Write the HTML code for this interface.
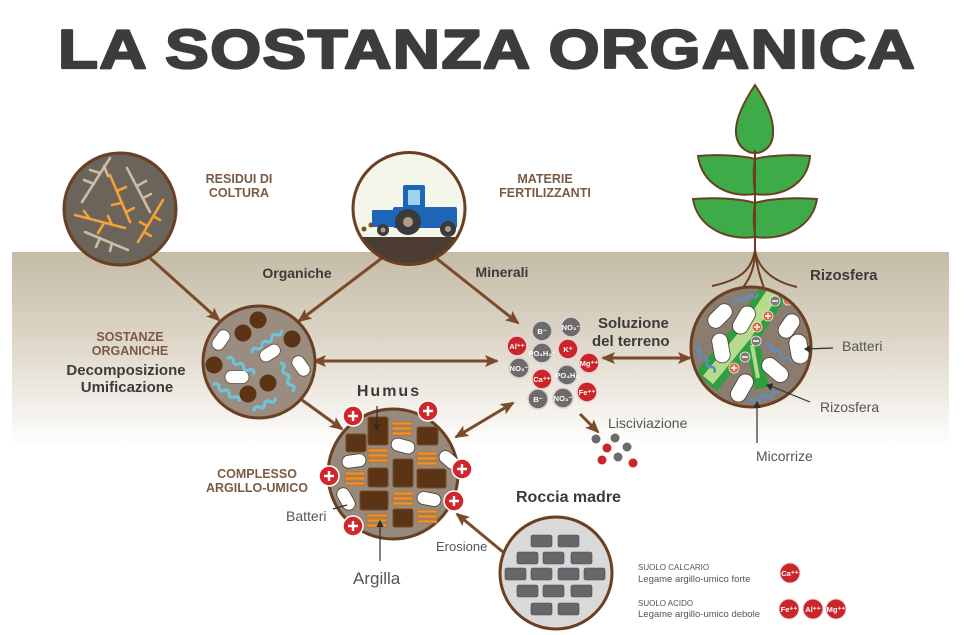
<!DOCTYPE html>
<html><head><meta charset="utf-8"><style>
html,body{margin:0;padding:0;background:#fff}
svg{display:block}
text{font-family:"Liberation Sans",Arial,sans-serif}
.cap{fill:#7b5a45;font-weight:bold;font-size:12.5px}
.dk{fill:#3b3b3b;font-weight:bold}
.lt{fill:#555;font-weight:normal}
.ion{fill:#fff;font-weight:bold;font-size:7.5px;text-anchor:middle}
</style></head><body>
<svg width="971" height="635" viewBox="0 0 971 635" xmlns="http://www.w3.org/2000/svg">
<defs>
<linearGradient id="gb" x1="0" y1="0" x2="0" y2="1">
<stop offset="0" stop-color="#c5bca6"/>
<stop offset="0.45" stop-color="#ddd6c8"/>
<stop offset="0.8" stop-color="#f3f0ea"/>
<stop offset="1" stop-color="#ffffff"/>
</linearGradient>
<marker id="ah" markerUnits="userSpaceOnUse" markerWidth="14" markerHeight="12" refX="12" refY="6" orient="auto-start-reverse">
<path d="M0,0 L14,6 L0,12 L3,6 z" fill="#7b4a28"/>
</marker>
<clipPath id="ct"><circle cx="409" cy="208.5" r="56"/></clipPath>
<clipPath id="cr"><circle cx="751" cy="347" r="58"/></clipPath>
</defs>

<!-- ground band -->
<rect x="12" y="252" width="937" height="195" fill="url(#gb)"/>

<!-- title -->
<g transform="translate(58,68) scale(1.19,1)">
<text x="0" y="0" textLength="720" lengthAdjust="spacing" font-size="55" font-weight="bold" fill="#3c3c3c" stroke="#3c3c3c" stroke-width="2.2" stroke-linejoin="round">LA SOSTANZA ORGANICA</text>
</g>

<!-- arrows -->
<g stroke="#7b4a28" stroke-width="3" fill="none">
<line x1="150" y1="258" x2="219" y2="320" marker-end="url(#ah)"/>
<line x1="382" y1="258" x2="299" y2="321" marker-end="url(#ah)"/>
<line x1="436" y1="258" x2="518" y2="323" marker-end="url(#ah)"/>
<line x1="314" y1="361" x2="497" y2="361" marker-start="url(#ah)" marker-end="url(#ah)"/>
<line x1="302" y1="400" x2="342" y2="429" marker-end="url(#ah)"/>
<line x1="456" y1="437" x2="513" y2="403" marker-start="url(#ah)" marker-end="url(#ah)"/>
<line x1="603" y1="358" x2="690" y2="358" marker-start="url(#ah)" marker-end="url(#ah)"/>
<line x1="580" y1="414" x2="598" y2="432" marker-end="url(#ah)"/>
<line x1="503" y1="552" x2="457" y2="514" marker-end="url(#ah)"/>
</g>

<!-- residui circle -->
<circle cx="120" cy="209" r="56" fill="#6b645a" stroke="#6b3f22" stroke-width="3"/>
<g fill="none" stroke-linecap="round" stroke-width="2.6">
<g stroke="#cbbda5">
<path d="M110,158 L82,202 M100,173 L90,170 M94,184 L84,180 M104,166 L108,176"/>
<path d="M127,168 L150,212 M137,186 L146,181 M143,198 L151,194"/>
<path d="M85,232 L128,250 M100,238 L96,247 M112,243 L110,251"/>
</g>
<g stroke="#f5a03a">
<path d="M110,175 L130,222 M117,191 L126,187 M121,203 L112,205 M126,212 L134,208"/>
<path d="M75,215 L125,228 M90,219 L84,211 M104,223 L98,233 M112,225 L108,216"/>
<path d="M163,200 L138,242 M153,216 L160,220 M147,226 L140,222 M144,232 L151,236"/>
</g>
</g>
<text class="cap" x="239" y="183" text-anchor="middle">RESIDUI DI</text>
<text class="cap" x="239" y="197" text-anchor="middle">COLTURA</text>

<!-- tractor circle -->
<circle cx="409" cy="208.5" r="56" fill="#f4f6ea"/>
<g clip-path="url(#ct)">
<rect x="350" y="237" width="120" height="40" fill="#4d3c31"/>
<rect x="372" y="210" width="22" height="17" rx="1" fill="#1f66b8"/>
<rect x="403" y="185" width="22" height="23" rx="2" fill="#1f66b8"/>
<rect x="408" y="190" width="12" height="15" fill="#9ed3f0"/>
<rect x="393" y="207" width="64" height="21" rx="2" fill="#1f66b8"/>
<circle cx="408" cy="222" r="13" fill="#3a3a3a"/>
<circle cx="408" cy="222" r="5" fill="#b49a86"/>
<circle cx="448" cy="229" r="8" fill="#3a3a3a"/>
<circle cx="448" cy="229" r="3" fill="#b49a86"/>
<circle cx="383" cy="230" r="6" fill="#3a3a3a"/>
<circle cx="383" cy="230" r="2.5" fill="#b49a86"/>
<circle cx="364" cy="229" r="2.5" fill="#7b4a28"/>
<circle cx="371" cy="225" r="2.5" fill="#7b4a28"/>
</g>
<circle cx="409" cy="208.5" r="56" fill="none" stroke="#6b3f22" stroke-width="3"/>
<text class="cap" x="545" y="183" text-anchor="middle">MATERIE</text>
<text class="cap" x="545" y="197" text-anchor="middle">FERTILIZZANTI</text>

<text class="dk" x="297" y="278" font-size="14" text-anchor="middle">Organiche</text>
<text class="dk" x="502" y="277" font-size="14" text-anchor="middle">Minerali</text>

<!-- plant -->
<g stroke="#6b3f22" stroke-width="2" fill="#3dab47">
<path d="M755,85 C745,100 735,118 736,133 C737,147 747,153 755,153 C763,153 773,147 773,133 C774,118 765,100 755,85 Z"/>
<path d="M698,156 C720,154 745,156 755,159 C758,175 755,190 755,194 C728,198 702,184 698,156 Z"/>
<path d="M810,156 C790,154 765,156 755,159 C752,175 755,190 755,194 C782,198 808,184 810,156 Z"/>
<path d="M693,199 C717,197 742,199 755,203 C758,220 755,233 755,237 C725,241 697,226 693,199 Z"/>
<path d="M817,199 C793,197 768,199 755,203 C752,220 755,233 755,237 C785,241 813,226 817,199 Z"/>
</g>
<g stroke="#6b3f22" stroke-width="2" fill="none">
<line x1="755" y1="150" x2="755" y2="255"/>
<path d="M755,250 C752,270 740,280 712,286"/>
<path d="M755,250 C755,270 748,282 740,291"/>
<path d="M755,250 C757,270 762,282 765,291"/>
<path d="M755,250 C758,270 775,282 797,287"/>
</g>
<text class="dk" x="810" y="280" font-size="15">Rizosfera</text>

<!-- organic circle -->
<circle cx="259" cy="362" r="56" fill="#9a8d80" stroke="#6b3f22" stroke-width="3"/>
<g fill="#5b3415">
<circle cx="258" cy="320" r="8.5"/><circle cx="243" cy="333" r="8.5"/><circle cx="292" cy="339" r="8.5"/>
<circle cx="214" cy="365" r="8.5"/><circle cx="268" cy="383" r="8.5"/><circle cx="248" cy="394" r="8.5"/>
</g>
<g fill="#fff" stroke="#5b4a3a" stroke-width="0.8">
<rect x="-11" y="-6.5" width="22" height="13" rx="6.5" transform="translate(221,340) rotate(-55)"/>
<rect x="-11" y="-6.5" width="22" height="13" rx="6.5" transform="translate(270,353) rotate(-32)"/>
<rect x="-11" y="-6.5" width="22" height="13" rx="6.5" transform="translate(301,366) rotate(55)"/>
<rect x="-12" y="-6.5" width="24" height="13" rx="6.5" transform="translate(237,377)"/>
</g>
<g fill="none" stroke="#6ec3dc" stroke-width="3.2" stroke-linecap="round">
<path d="M0,0 q3,-4 6,0 t6,0 t6,0 t6,0 t6,0" transform="translate(228,358) rotate(30)"/>
<path d="M0,0 q3,-4 6,0 t6,0 t6,0 t6,0 t6,0 t6,0" transform="translate(252,352) rotate(-35)"/>
<path d="M0,0 q3,-4 6,0 t6,0 t6,0 t6,0 t6,0" transform="translate(281,363) rotate(66)"/>
<path d="M0,0 q3,-4 6,0 t6,0 t6,0 t6,0 t6,0" transform="translate(214,384) rotate(33)"/>
<path d="M0,0 q3,-4 6,0 t6,0 t6,0 t6,0" transform="translate(254,410) rotate(-28)"/>
</g>
<text class="cap" x="130" y="341" text-anchor="middle" font-size="11.5">SOSTANZE</text>
<text class="cap" x="130" y="355" text-anchor="middle" font-size="11.5">ORGANICHE</text>
<text class="dk" x="126" y="375" text-anchor="middle" font-size="15">Decomposizione</text>
<text class="dk" x="127" y="392" text-anchor="middle" font-size="15">Umificazione</text>

<!-- humus circle -->
<circle cx="393" cy="474" r="65" fill="#968a7c" stroke="#6b3f22" stroke-width="3"/>
<g fill="#5b3415" stroke="#7a4a25" stroke-width="1">
<rect x="368" y="417" width="20" height="28" rx="2"/>
<rect x="417" y="427" width="21" height="18" rx="2"/>
<rect x="346" y="434" width="20" height="18" rx="2"/>
<rect x="393" y="459" width="20" height="28" rx="2"/>
<rect x="368" y="468" width="20" height="19" rx="2"/>
<rect x="417" y="469" width="29" height="19" rx="2"/>
<rect x="360" y="491" width="28" height="19" rx="2"/>
<rect x="393" y="509" width="20" height="18" rx="2"/>
</g>
<g fill="#f0932b" stroke="#b8621a" stroke-width="0.6">
<g transform="translate(392,422)"><rect width="20" height="3"/><rect y="5" width="20" height="3"/><rect y="10" width="20" height="3"/></g>
<g transform="translate(368,449)"><rect width="20" height="3"/><rect y="5" width="20" height="3"/><rect y="10" width="20" height="3"/></g>
<g transform="translate(417,452)"><rect width="20" height="3"/><rect y="5" width="20" height="3"/><rect y="10" width="20" height="3"/></g>
<g transform="translate(345,472)"><rect width="20" height="3"/><rect y="5" width="20" height="3"/><rect y="10" width="20" height="3"/></g>
<g transform="translate(393,492)"><rect width="20" height="3"/><rect y="5" width="20" height="3"/><rect y="10" width="20" height="3"/></g>
<g transform="translate(367,514)"><rect width="20" height="3"/><rect y="5" width="20" height="3"/><rect y="10" width="20" height="3"/></g>
<g transform="translate(417,510)"><rect width="20" height="3"/><rect y="5" width="20" height="3"/><rect y="10" width="20" height="3"/></g>
</g>
<g fill="#fff" stroke="#4a3a2a" stroke-width="0.8">
<rect x="-12" y="-6.5" width="24" height="13" rx="6.5" transform="translate(403,446) rotate(15)"/>
<rect x="-12" y="-6.5" width="24" height="13" rx="6.5" transform="translate(354,461) rotate(-8)"/>
<rect x="-11" y="-6.5" width="22" height="13" rx="6.5" transform="translate(449,460) rotate(40)"/>
<rect x="-12" y="-6.5" width="24" height="13" rx="6.5" transform="translate(346,499) rotate(60)"/>
<rect x="-12" y="-6.5" width="24" height="13" rx="6.5" transform="translate(429,499) rotate(10)"/>
</g>
<g>
<g transform="translate(353,416)"><circle r="10" fill="#d0262c" stroke="#fff" stroke-width="1.5"/><path d="M-5,0 H5 M0,-5 V5" stroke="#fff" stroke-width="2.4"/></g>
<g transform="translate(428,411)"><circle r="10" fill="#d0262c" stroke="#fff" stroke-width="1.5"/><path d="M-5,0 H5 M0,-5 V5" stroke="#fff" stroke-width="2.4"/></g>
<g transform="translate(329,476)"><circle r="10" fill="#d0262c" stroke="#fff" stroke-width="1.5"/><path d="M-5,0 H5 M0,-5 V5" stroke="#fff" stroke-width="2.4"/></g>
<g transform="translate(462,469)"><circle r="10" fill="#d0262c" stroke="#fff" stroke-width="1.5"/><path d="M-5,0 H5 M0,-5 V5" stroke="#fff" stroke-width="2.4"/></g>
<g transform="translate(454,501)"><circle r="10" fill="#d0262c" stroke="#fff" stroke-width="1.5"/><path d="M-5,0 H5 M0,-5 V5" stroke="#fff" stroke-width="2.4"/></g>
<g transform="translate(353,526)"><circle r="10" fill="#d0262c" stroke="#fff" stroke-width="1.5"/><path d="M-5,0 H5 M0,-5 V5" stroke="#fff" stroke-width="2.4"/></g>
</g>
<g stroke="#2e2e2e" stroke-width="1.2" fill="none">
<line x1="377" y1="406" x2="377" y2="428"/>
<path d="M374,424 L377,430 L380,424" fill="#2e2e2e"/>
<line x1="380" y1="523" x2="380" y2="561"/>
<path d="M377,527 L380,521 L383,527" fill="#2e2e2e"/>
<line x1="333" y1="509" x2="347" y2="505"/>
</g>
<text class="dk" x="389" y="396" text-anchor="middle" font-size="16" letter-spacing="2">Humus</text>
<text class="cap" x="257" y="478" text-anchor="middle" font-size="11.5">COMPLESSO</text>
<text class="cap" x="257" y="492" text-anchor="middle" font-size="11.5">ARGILLO-UMICO</text>
<text class="lt" x="286" y="521" font-size="14">Batteri</text>
<text class="lt" x="353" y="584" font-size="17">Argilla</text>

<!-- solution ions -->
<g stroke-width="1.5">
<g stroke="#d9d4d4" fill="#6d6a6b">
<circle cx="542" cy="331" r="10"/><circle cx="571" cy="327" r="10"/><circle cx="542" cy="353" r="10"/>
<circle cx="519" cy="368" r="10"/><circle cx="567" cy="375" r="10"/><circle cx="538" cy="399" r="10"/><circle cx="563" cy="398" r="10"/>
</g>
<g stroke="#f2d4d4" fill="#c9252b">
<circle cx="517" cy="346" r="10"/><circle cx="568" cy="349" r="10"/><circle cx="589" cy="363" r="10"/>
<circle cx="542" cy="379" r="10"/><circle cx="587" cy="392" r="10"/>
</g>
</g>
<text class="ion" x="542" y="334">B⁻</text>
<text class="ion" x="571" y="330">NO₃⁻</text>
<text class="ion" x="542" y="356">PO₄H₂⁻</text>
<text class="ion" x="519" y="371">NO₃⁻</text>
<text class="ion" x="567" y="378">PO₄H₂</text>
<text class="ion" x="538" y="402">B⁻</text>
<text class="ion" x="563" y="401">NO₃⁻</text>
<text class="ion" x="517" y="349">Al⁺⁺</text>
<text class="ion" x="568" y="352">K⁺</text>
<text class="ion" x="589" y="366">Mg⁺⁺</text>
<text class="ion" x="542" y="382">Ca⁺⁺</text>
<text class="ion" x="587" y="395">Fe⁺⁺</text>
<text class="dk" x="598" y="328" font-size="15">Soluzione</text>
<text class="dk" x="592" y="346" font-size="15">del terreno</text>
<text class="lt" x="608" y="428" font-size="14">Lisciviazione</text>
<g>
<circle cx="596" cy="439" r="4.5" fill="#6d6a6b"/><circle cx="615" cy="438" r="4.5" fill="#6d6a6b"/>
<circle cx="607" cy="448" r="4.5" fill="#c9252b"/><circle cx="627" cy="447" r="4.5" fill="#6d6a6b"/>
<circle cx="602" cy="460" r="4.5" fill="#c9252b"/><circle cx="618" cy="457" r="4.5" fill="#6d6a6b"/>
<circle cx="633" cy="463" r="4.5" fill="#c9252b"/>
</g>

<!-- rizosfera circle -->
<circle cx="751" cy="347" r="60" fill="#8a7d70"/>
<g clip-path="url(#cr)">
<path d="M778,285 L745,335 L706,382" stroke="#2e9e3e" stroke-width="28" fill="none"/>
<path d="M752,340 L762,388" stroke="#2e9e3e" stroke-width="14" fill="none"/>
<path d="M778,285 L745,335 L708,380" stroke="#b7db8c" stroke-width="13" fill="none"/>
<path d="M752,345 L758,378" stroke="#b7db8c" stroke-width="4" fill="none"/>
<g fill="#fff" stroke="#4a3a2a" stroke-width="0.8">
<rect x="-14" y="-8" width="28" height="16" rx="8" transform="translate(720,316) rotate(-45)"/>
<rect x="-15" y="-8" width="30" height="16" rx="8" transform="translate(744,320) rotate(-60)"/>
<rect x="-15" y="-8" width="30" height="16" rx="8" transform="translate(721,348) rotate(80)"/>
<rect x="-13" y="-8" width="26" height="16" rx="8" transform="translate(789,326) rotate(-55)"/>
<rect x="-15" y="-9" width="30" height="18" rx="9" transform="translate(799,349) rotate(80)"/>
<rect x="-15" y="-8" width="30" height="16" rx="8" transform="translate(775,370) rotate(40)"/>
<rect x="-15" y="-8" width="30" height="16" rx="8" transform="translate(742,388) rotate(-60)"/>
</g>
<g fill="none" stroke="#5b8fc2" stroke-width="2.6" stroke-linecap="round">
<path d="M0,0 q3,-4 6,0 t6,0 t6,0 t6,0" transform="translate(735,302) rotate(-18)"/>
<path d="M0,0 q3,-4 6,0 t6,0 t6,0 t6,0 t6,0" transform="translate(696,348) rotate(52)"/>
<path d="M0,0 q3,-4 6,0 t6,0 t6,0 t6,0 t6,0" transform="translate(766,344) rotate(35)"/>
<path d="M0,0 q3,-4 6,0 t6,0 t6,0 t6,0 t6,0" transform="translate(749,402) rotate(-18)"/>
</g>
<g stroke="#eee" stroke-width="0.8">
<circle cx="775" cy="301" r="5" fill="#7d7a72"/><circle cx="756" cy="341" r="5" fill="#7d7a72"/><circle cx="745" cy="357" r="5" fill="#7d7a72"/>
<circle cx="768" cy="316" r="5" fill="#e0653a"/><circle cx="757" cy="327" r="5" fill="#e0653a"/><circle cx="734" cy="368" r="5" fill="#e0653a"/><circle cx="788" cy="300" r="5" fill="#e0653a"/>
</g>
<g stroke="#fff" stroke-width="1.4">
<path d="M772,301 h6 M753,341 h6 M742,357 h6"/>
<path d="M765,316 h6 M768,313 v6 M754,327 h6 M757,324 v6 M731,368 h6 M734,365 v6 M785,300 h6 M788,297 v6"/>
</g>
</g>
<circle cx="751" cy="347" r="60" fill="none" stroke="#6b3f22" stroke-width="3"/>
<g stroke="#2e2e2e" stroke-width="1.2" fill="none">
<line x1="806" y1="349" x2="833" y2="348"/>
<path d="M810,346 L805,349 L810,352" fill="#2e2e2e"/>
<line x1="768" y1="385" x2="810" y2="402"/>
<path d="M773,384 L767,385 L771,390" fill="#2e2e2e"/>
<line x1="757" y1="403" x2="757" y2="443"/>
<path d="M754,408 L757,402 L760,408" fill="#2e2e2e"/>
</g>
<text class="lt" x="842" y="351" font-size="14">Batteri</text>
<text class="lt" x="820" y="412" font-size="14">Rizosfera</text>
<text class="lt" x="756" y="461" font-size="14">Micorrize</text>

<!-- roccia -->
<circle cx="556" cy="573" r="56" fill="#d9d9d9" stroke="#6b3f22" stroke-width="3"/>
<g fill="#66666b" stroke="#4a4a4e" stroke-width="0.6">
<rect x="531" y="535" width="21" height="12" rx="2"/><rect x="558" y="535" width="21" height="12" rx="2"/>
<rect x="517" y="552" width="21" height="12" rx="2"/><rect x="543" y="552" width="21" height="12" rx="2"/><rect x="571" y="552" width="21" height="12" rx="2"/>
<rect x="505" y="568" width="21" height="12" rx="2"/><rect x="531" y="568" width="21" height="12" rx="2"/><rect x="558" y="568" width="21" height="12" rx="2"/><rect x="584" y="568" width="21" height="12" rx="2"/>
<rect x="517" y="585" width="21" height="12" rx="2"/><rect x="543" y="585" width="21" height="12" rx="2"/><rect x="571" y="585" width="21" height="12" rx="2"/>
<rect x="531" y="603" width="21" height="12" rx="2"/><rect x="558" y="603" width="21" height="12" rx="2"/>
</g>
<text class="dk" x="516" y="502" font-size="16">Roccia madre</text>
<text class="lt" x="436" y="551" font-size="13">Erosione</text>

<!-- legend -->
<text class="lt" x="638" y="570" font-size="8">SUOLO CALCARIO</text>
<text class="lt" x="638" y="582" font-size="9.5">Legame argillo-umico forte</text>
<text class="lt" x="638" y="606" font-size="8">SUOLO ACIDO</text>
<text class="lt" x="638" y="617" font-size="9.5">Legame argillo-umico debole</text>
<g fill="#c9252b" stroke="#f2d4d4" stroke-width="1">
<circle cx="790" cy="573" r="10"/><circle cx="789" cy="609" r="10"/><circle cx="813" cy="609" r="10"/><circle cx="836" cy="609" r="10"/>
</g>
<text class="ion" x="790" y="576">Ca⁺⁺</text>
<text class="ion" x="789" y="612">Fe⁺⁺</text>
<text class="ion" x="813" y="612">Al⁺⁺</text>
<text class="ion" x="836" y="612">Mg⁺⁺</text>
</svg>
</body></html>
